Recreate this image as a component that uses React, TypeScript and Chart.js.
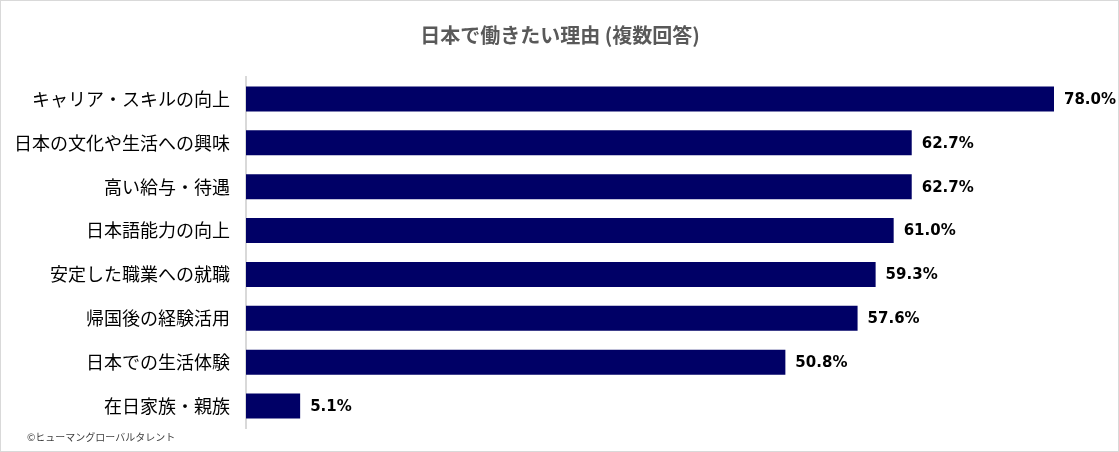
import { useEffect, useRef } from 'react';
import { Chart, registerables } from 'chart.js';

Chart.register(...registerables);

const categories = [
  'キャリア・スキルの向上',
  '日本の文化や生活への興味',
  '高い給与・待遇',
  '日本語能力の向上',
  '安定した職業への就職',
  '帰国後の経験活用',
  '日本での生活体験',
  '在日家族・親族',
];
const percentages = [78.0, 62.7, 62.7, 61.0, 59.3, 57.6, 50.8, 5.1];

const titleText = '日本で働きたい理由 (複数回答)';
const creditText = '©ヒューマングローバルタレント';

const JP_FONT = '"Noto Sans CJK JP", "Noto Sans", sans-serif';

// background, frame, title, credit and value labels
const decorPlugin = {
  id: 'decor',
  beforeDraw(chart: Chart) {
    const { ctx, width, height } = chart;
    ctx.save();
    ctx.fillStyle = '#ffffff';
    ctx.fillRect(0, 0, width, height);
    ctx.strokeStyle = '#d9d9d9';
    ctx.lineWidth = 1;
    ctx.strokeRect(0.5, 0.5, width - 1, height - 1);
    ctx.restore();
  },
  afterDraw(chart: Chart) {
    const { ctx, chartArea } = chart;
    ctx.save();
    ctx.fillStyle = '#595959';
    ctx.font = `bold 20px ${JP_FONT}`;
    ctx.textAlign = 'center';
    ctx.textBaseline = 'middle';
    ctx.fillText(titleText, 560, 35);

    ctx.fillStyle = '#404040';
    ctx.font = `10px ${JP_FONT}`;
    ctx.textAlign = 'left';
    ctx.fillText(creditText, 27, 437);

    const meta = chart.getDatasetMeta(0);
    ctx.fillStyle = '#000000';
    ctx.font = 'bold 15px "DejaVu Sans", Verdana, sans-serif';
    ctx.textAlign = 'left';
    meta.data.forEach((el: any, i: number) => {
      const xEnd = Math.min(el.x, chartArea.right);
      ctx.fillText(`${percentages[i].toFixed(1)}%`, xEnd + 10, el.y + 1);
    });
    ctx.restore();
  },
};

const App = () => {
  const chartRef = useRef<HTMLCanvasElement>(null);
  const chartInstance = useRef<Chart | null>(null);

  useEffect(() => {
    document.body.style.margin = '0';
    if (!chartRef.current) return;
    if (chartInstance.current) chartInstance.current.destroy();

    chartInstance.current = new Chart(chartRef.current, {
      type: 'bar',
      data: {
        labels: categories,
        datasets: [
          {
            data: percentages,
            backgroundColor: '#000066',
            borderWidth: 0,
            barPercentage: 0.57,
            categoryPercentage: 1,
          },
        ],
      },
      options: {
        indexAxis: 'y',
        animation: false,
        responsive: false,
        maintainAspectRatio: false,
        layout: {
          padding: { top: 77, bottom: 24, left: 0, right: 65 },
        },
        plugins: {
          legend: { display: false },
          tooltip: { enabled: false },
          title: { display: false },
        },
        scales: {
          x: {
            display: false,
            min: 0,
            max: 76.1,
          },
          y: {
            afterFit: (scale: any) => {
              scale.width = 246;
            },
            grid: { display: false },
            border: { display: true, color: '#d9d9d9', width: 2 },
            ticks: {
              color: '#000000',
              padding: 8,
              font: { family: JP_FONT, size: 18 },
            },
          },
        },
      },
      plugins: [decorPlugin],
    });

    return () => {
      if (chartInstance.current) {
        chartInstance.current.destroy();
        chartInstance.current = null;
      }
    };
  }, []);

  return (
    <div style={{ width: 1119, height: 452 }}>
      <canvas ref={chartRef} width={1119} height={452} />
    </div>
  );
};

export default App;
